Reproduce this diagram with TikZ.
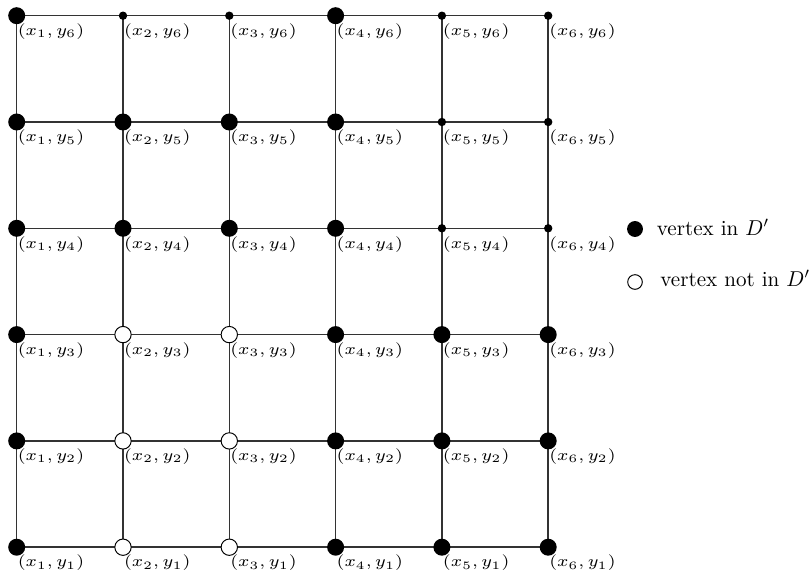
\documentclass[tikz,border=0pt]{standalone}
\usepackage{graphicx}
\begin{document}
\begin{tikzpicture}[x=0.465pt,y=-0.465pt,
  edge/.style={line width=0.7pt, black!80},
  bigv/.style={circle, fill=black, inner sep=0pt, minimum size=7.9pt},
  smallv/.style={circle, fill=black, inner sep=0pt, minimum size=3.9pt},
  whitev/.style={circle, draw=black, fill=white, line width=0.45pt, inner sep=0pt, minimum size=7.6pt},
  lab/.style={anchor=base west, inner sep=0pt, font=\scriptsize},
  legtxt/.style={anchor=base west, inner sep=0pt}]
\useasboundingbox (0,0) rectangle (810,574);
% coordinates
\foreach \i in {1,...,6}{
  \foreach \j in {1,...,6}{
    \coordinate (p\i\j) at ({16.7+106.3*(\i-1)},{15.7+106.3*(6-\j)});
  }
}
% grid lines
\foreach \j in {1,...,6}{ \draw[edge] (p1\j) -- (p6\j); }
\foreach \i in {1,...,6}{ \draw[edge] (p\i1) -- (p\i6); }
% vertices
\foreach \v in {16,46,15,25,35,45,14,24,34,44,13,43,53,63,12,42,52,62,11,41,51,61}{
  \node[bigv] (v\v) at (p\v) {};
}
\foreach \v in {26,36,56,66,55,65,54,64}{
  \node[smallv] (v\v) at (p\v) {};
}
\foreach \v in {23,33,22,32,21,31}{
  \node[whitev] (v\v) at (p\v) {};
}
% labels
\foreach \i in {1,...,6}{
  \foreach \j in {1,...,6}{
    \node[lab] (l\i\j) at ([xshift=0.3pt,yshift=-9.2pt]p\i\j) {\scalebox{1.17}[1.05]{$(x_{\i},y_{\j})$}};
  }
}
% legend
\node[bigv, minimum size=7.4pt] (legb) at (635,229) {};
\node[legtxt] (legbt) at (656.5,235) {\scalebox{0.98}[1]{vertex in $D'$}};
\node[whitev, minimum size=6.8pt] (legw) at (635,282) {};
\node[legtxt] (legwt) at (660,286) {\scalebox{0.98}[1]{vertex not in $D'$}};
\end{tikzpicture}
\end{document}
